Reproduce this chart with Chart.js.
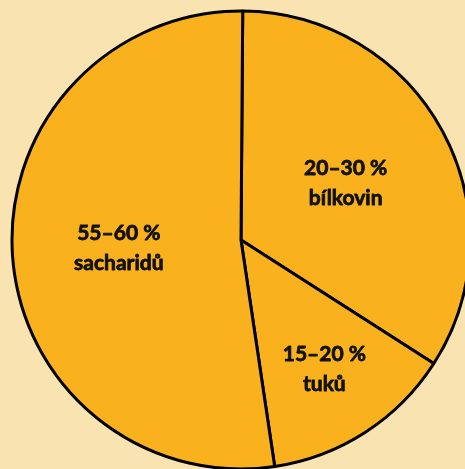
<!DOCTYPE html>
<html>
<head>
<meta charset="utf-8">
<script src="https://cdn.jsdelivr.net/npm/chart.js@4.4.0/dist/chart.umd.min.js"></script>
<style>
  html, body { margin:0; padding:0; background:#F9E3B1; overflow:hidden; width:465px; height:469px; }
  #wrap { position:absolute; left:0; top:0; width:465px; height:469px; }
</style>
</head>
<body>
<div id="wrap"><canvas id="c"></canvas></div>
<script>
// Data
const categories = ['bílkovin', 'tuků', 'sacharidů'];
const ranges = ['20–30 %', '15–20 %', '55–60 %'];
const shares = [33.95, 13.58, 52.47];

const labelRadius = [0.52, 0.67, 0.535];

const labelPlugin = {
  id: 'sliceLabels',
  afterDatasetsDraw(chart) {
    const ctx = chart.ctx;
    const meta = chart.getDatasetMeta(0);
    ctx.save();
    ctx.fillStyle = '#111111';
    ctx.strokeStyle = '#111111';
    ctx.lineWidth = 0.8;
    ctx.lineJoin = 'round';
    ctx.textAlign = 'center';
    ctx.textBaseline = 'middle';
    ctx.font = 'bold 21px Lato';
    meta.data.forEach((arc, i) => {
      const p = arc.getProps(['startAngle', 'endAngle', 'x', 'y', 'outerRadius'], true);
      const mid = (p.startAngle + p.endAngle) / 2;
      const r = p.outerRadius * labelRadius[i];
      const cx = p.x + Math.cos(mid) * r;
      const cy = p.y + Math.sin(mid) * r;
      ctx.fillText(ranges[i], cx, cy - 15);
      ctx.strokeText(ranges[i], cx, cy - 15);
      ctx.fillText(categories[i], cx, cy + 15);
      ctx.strokeText(categories[i], cx, cy + 15);
    });
    ctx.restore();
  }
};

new Chart(document.getElementById('c'), {
  type: 'pie',
  data: {
    labels: categories,
    datasets: [{
      data: shares,
      backgroundColor: '#F9B21E',
      borderColor: '#000000',
      borderWidth: 3,
      clip: false
    }]
  },
  options: {
    responsive: true,
    maintainAspectRatio: false,
    animation: false,
    rotation: 0.43,
    radius: 229,
    layout: { padding: { left: 17, right: 0, top: 11, bottom: 0 } },
    plugins: { legend: { display: false }, tooltip: { enabled: false } }
  },
  plugins: [labelPlugin]
});
</script>
</body>
</html>
